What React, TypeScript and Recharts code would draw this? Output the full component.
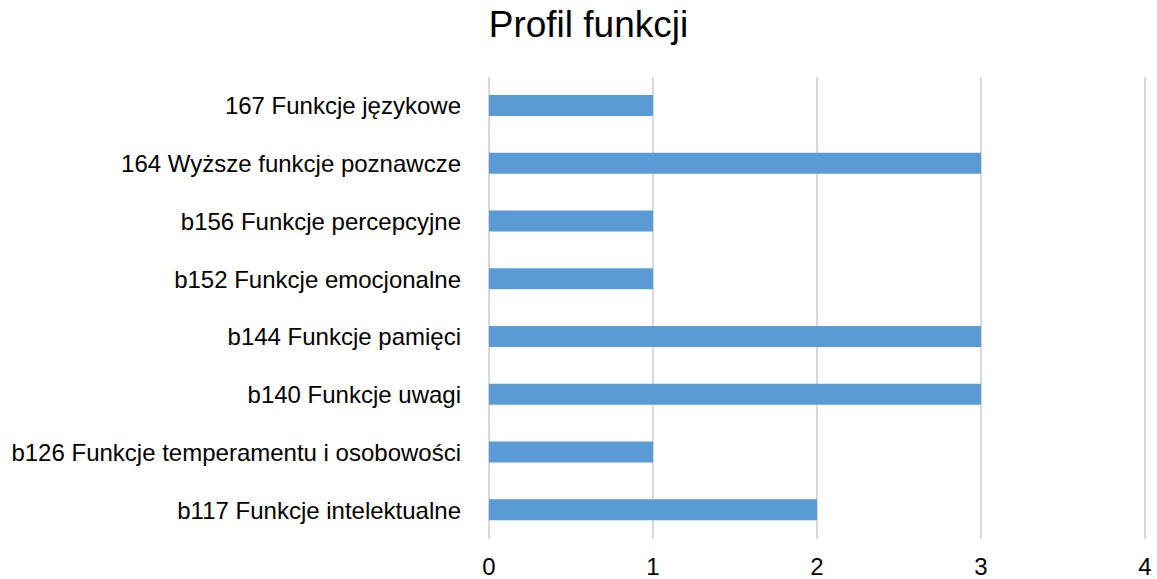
import { BarChart, Bar, XAxis, YAxis, CartesianGrid } from 'recharts';

const categories = [
  '167 Funkcje językowe',
  '164 Wyższe funkcje poznawcze',
  'b156 Funkcje percepcyjne',
  'b152 Funkcje emocjonalne',
  'b144 Funkcje pamięci',
  'b140 Funkcje uwagi',
  'b126 Funkcje temperamentu i osobowości',
  'b117 Funkcje intelektualne',
];
const values = [1, 3, 1, 1, 3, 3, 1, 2];
const xTicks = [0, 1, 2, 3, 4];

const data = categories.map((name, i) => ({ name, value: values[i] }));

const FONT = '"Liberation Sans", Arial, sans-serif';

export default function App() {
  return (
    <div style={{ position: 'absolute', left: 0, top: 0, width: 1157, height: 579, background: '#fff', fontFamily: FONT }}>
      <div style={{ position: 'absolute', left: 0, top: 6, width: 1177, textAlign: 'center', fontSize: 37, lineHeight: '37px', color: '#000' }}>
        Profil funkcji
      </div>
      <BarChart
        width={1157}
        height={579}
        data={data}
        layout="vertical"
        margin={{ top: 77, right: 12, bottom: 0, left: 0 }}
      >
        <CartesianGrid horizontal={false} stroke="#d9d9d9" strokeWidth={2} />
        <XAxis
          type="number"
          domain={[0, 4]}
          ticks={xTicks}
          axisLine={false}
          tickLine={false}
          tickSize={0}
          tickMargin={19}
          height={40}
          tick={{ fill: '#000', fontSize: 24, fontFamily: FONT }}
        />
        <YAxis
          type="category"
          dataKey="name"
          width={489}
          axisLine={false}
          tickLine={false}
          tickSize={0}
          tickMargin={28}
          interval={0}
          tick={{ fill: '#000', fontSize: 24, fontFamily: FONT }}
        />
        <Bar dataKey="value" fill="#5b9bd5" barSize={21} isAnimationActive={false} />
      </BarChart>
    </div>
  );
}
